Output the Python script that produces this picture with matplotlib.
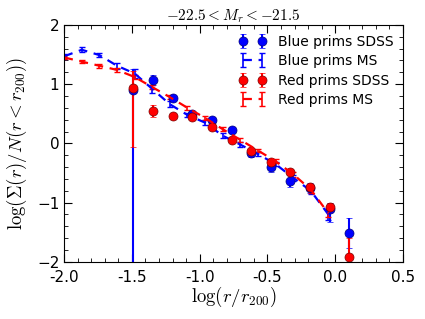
import numpy as np
import matplotlib
matplotlib.use("Agg")
import matplotlib.pyplot as plt
from matplotlib.ticker import MultipleLocator, FuncFormatter

plt.rcParams["mathtext.fontset"] = "cm"

# SDSS measurements (binned)
x_sdss = [-1.49, -1.345, -1.2, -1.055, -0.91, -0.765, -0.62, -0.475, -0.33, -0.185, -0.04, 0.105]

blue_sdss = [0.90, 1.07, 0.77, 0.50, 0.40, 0.23, -0.16, -0.40, -0.63, -0.75, -1.10, -1.51]
blue_lo = [3.5, 0.08, 0.05, 0.05, 0.05, 0.05, 0.07, 0.08, 0.10, 0.08, 0.22, 0.25]
blue_hi = [0.35, 0.08, 0.05, 0.05, 0.05, 0.05, 0.07, 0.08, 0.10, 0.08, 0.10, 0.25]

red_sdss = [0.94, 0.54, 0.47, 0.45, 0.28, 0.06, -0.13, -0.31, -0.48, -0.73, -1.07, -1.92]
red_lo = [1.0, 0.10, 0.04, 0.04, 0.04, 0.04, 0.04, 0.04, 0.05, 0.05, 0.06, 0.5]
red_hi = [0.28, 0.10, 0.04, 0.04, 0.04, 0.04, 0.04, 0.04, 0.05, 0.05, 0.06, 0.32]

# Millennium simulation curves
x_ms = [-2.0, -1.87, -1.74, -1.61, -1.48, -1.35, -1.22, -1.09, -0.96, -0.83,
        -0.70, -0.57, -0.44, -0.31, -0.18, -0.05]
blue_ms = [1.47, 1.58, 1.49, 1.31, 1.18, 0.92, 0.66, 0.48, 0.35, 0.13,
           -0.02, -0.18, -0.35, -0.58, -0.80, -1.20]
blue_ms_err = [0.04, 0.04, 0.04, 0.05, 0.07, 0.07, 0.05, 0.04, 0.04, 0.04,
               0.04, 0.04, 0.04, 0.05, 0.06, 0.10]
red_ms = [1.45, 1.38, 1.31, 1.24, 1.12, 0.95, 0.78, 0.60, 0.43, 0.24,
          0.06, -0.12, -0.30, -0.52, -0.78, -1.18]
red_ms_err = [0.03, 0.03, 0.03, 0.03, 0.03, 0.03, 0.03, 0.03, 0.03, 0.03,
              0.03, 0.03, 0.03, 0.04, 0.05, 0.06]

fig = plt.figure(figsize=(4.25, 3.19), dpi=100)
ax = fig.add_axes([0.151, 0.179, 0.797, 0.743])

ax.errorbar(x_sdss, blue_sdss, yerr=[blue_lo, blue_hi], fmt="o", color="b",
            ms=6.5, mec="#00007a", mew=0.5, elinewidth=1.5, capsize=2,
            label="Blue prims SDSS")
ax.errorbar(x_ms, blue_ms, yerr=blue_ms_err, fmt="--", color="b", lw=1.6,
            elinewidth=1.2, capsize=2, dashes=(4, 3), label="Blue prims MS")
ax.errorbar(x_sdss, red_sdss, yerr=[red_lo, red_hi], fmt="o", color="r",
            ms=6.5, mec="#7a0000", mew=0.5, elinewidth=1.5, capsize=2,
            label="Red prims SDSS")
ax.errorbar(x_ms, red_ms, yerr=red_ms_err, fmt="--", color="r", lw=1.6,
            elinewidth=1.2, capsize=2, dashes=(4, 3), label="Red prims MS")

ax.set_xlim(-2.0, 0.5)
ax.set_ylim(-2, 2)
ax.xaxis.set_major_locator(MultipleLocator(0.5))
ax.xaxis.set_minor_locator(MultipleLocator(0.1))
ax.yaxis.set_major_locator(MultipleLocator(1))
ax.yaxis.set_minor_locator(MultipleLocator(0.2))
ax.tick_params(which="both", direction="in", top=True, right=True, labelsize=11)
ax.tick_params(which="major", length=6)
ax.tick_params(which="minor", length=3)
ax.tick_params(axis="x", pad=6)
# x tick labels use a plain hyphen, as in the reference
ax.xaxis.set_major_formatter(FuncFormatter(lambda v, p: "%.1f" % v))

ax.set_xlabel(r"$\log(r/r_{200})$", fontsize=13.5, labelpad=0)
ax.set_ylabel(r"$\log(\Sigma(r)/N(r<r_{200}))$", fontsize=13.5, labelpad=6)
ax.set_title(r"$-22.5 < M_r < -21.5$", fontsize=11, pad=3)

ax.legend(loc="upper right", numpoints=2, frameon=False, fontsize=10,
          handlelength=2.0, borderaxespad=0.3, labelspacing=0.4)

fig.savefig("out.png", dpi=100)
